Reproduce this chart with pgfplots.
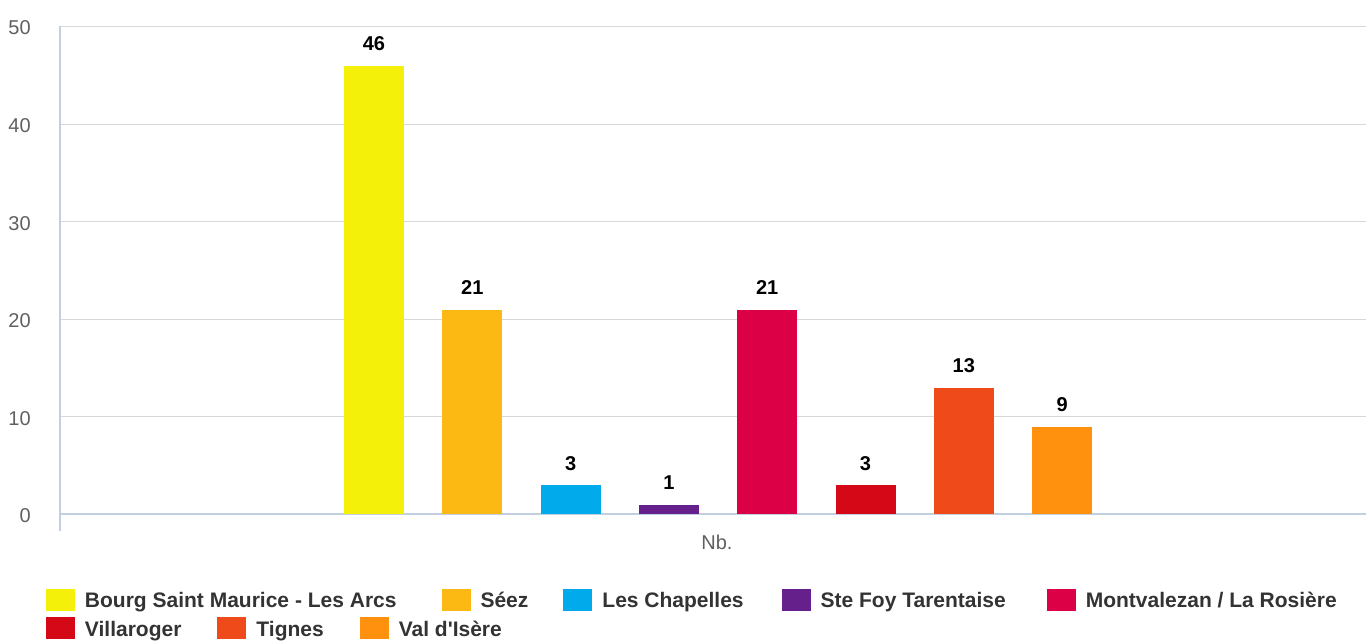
\documentclass[border=0pt]{standalone}
\usepackage{pgfplots}
\pgfplotsset{compat=1.18}
\usepackage{fontspec}
\setmainfont{Liberation Sans}
\definecolor{c1}{HTML}{F5F00A}
\definecolor{c2}{HTML}{FDB913}
\definecolor{c3}{HTML}{00AAEB}
\definecolor{c4}{HTML}{66208C}
\definecolor{c5}{HTML}{DC0046}
\definecolor{c6}{HTML}{D40816}
\definecolor{c7}{HTML}{EE4A1A}
\definecolor{c8}{HTML}{FF910F}
\definecolor{gridc}{HTML}{D8D8D8}
\definecolor{axisc}{HTML}{C0D0E0}
\definecolor{tickc}{HTML}{606060}
\definecolor{legc}{HTML}{333333}
\begin{document}
\begin{tikzpicture}
\useasboundingbox (0,0) rectangle (1366bp,642bp);
\begin{axis}[
  width=1306bp, height=488bp, scale only axis,
  at={(60bp,127.5bp)}, anchor=south west,
  xmin=0, xmax=1306, ymin=0, ymax=50,
  clip=false,
  axis x line=bottom, axis y line=left,
  x axis line style={draw=axisc, line width=2bp, -},
  y axis line style={draw=axisc, line width=1.2bp, -, shorten <=-17bp},
  ytick={0,10,20,30,40,50},
  ymajorgrids, grid style={draw=gridc, line width=1bp},
  ytick style={draw=none},
  xtick={657}, xticklabels={Nb.}, xtick style={draw=none},
  /pgf/number format/assume math mode=true,
  yticklabel style={font=\fontsize{20bp}{24bp}\selectfont, text=tickc, inner sep=0pt, anchor=east, xshift=-27bp, yshift=-1.5bp},
  xticklabel style={font=\fontsize{20bp}{24bp}\selectfont, text=tickc, inner sep=0pt, anchor=base, yshift=-33.3bp},
  bar width=60,
  nodes near coords,
  nodes near coords style={font=\fontsize{20bp}{24bp}\selectfont\bfseries, text=black, anchor=base, inner sep=0pt, yshift=15bp},
  legend columns=5,
  legend cell align=left,
  legend image code/.code={\fill[#1] (0bp,-11bp) rectangle (29bp,11bp);},
  legend style={draw=none, fill=none, inner sep=0pt, outer sep=0pt,
    at={(-0.01072,-0.1748)}, anchor=west,
    font=\fontsize{21bp}{25bp}\selectfont\bfseries, text=legc,
    nodes={inner sep=0pt, text height=15.3bp, text depth=0pt},
    /tikz/every odd column/.style={column sep=10bp},
    /tikz/column 2/.style={column sep=45bp},
    /tikz/column 4/.style={column sep=35bp},
    /tikz/column 6/.style={column sep=38bp},
    /tikz/column 8/.style={column sep=41bp}},
]
\addplot[ybar, bar shift=0pt, fill=c1, draw=none] coordinates {(314,46)};
\addlegendentry{Bourg Saint Maurice - Les Arcs}
\addplot[ybar, bar shift=0pt, fill=c2, draw=none] coordinates {(412.3,21)};
\addlegendentry{Séez}
\addplot[ybar, bar shift=0pt, fill=c3, draw=none] coordinates {(510.6,3)};
\addlegendentry{Les Chapelles}
\addplot[ybar, bar shift=0pt, fill=c4, draw=none] coordinates {(608.9,1)};
\addlegendentry{Ste Foy Tarentaise}
\addplot[ybar, bar shift=0pt, fill=c5, draw=none] coordinates {(707.2,21)};
\addlegendentry{Montvalezan / La Rosière}
\addplot[ybar, bar shift=0pt, fill=c6, draw=none, forget plot] coordinates {(805.5,3)};
\addplot[ybar, bar shift=0pt, fill=c7, draw=none, forget plot] coordinates {(903.8,13)};
\addplot[ybar, bar shift=0pt, fill=c8, draw=none, forget plot] coordinates {(1002.1,9)};
\end{axis}
\begin{axis}[
  width=1306bp, height=488bp, scale only axis,
  at={(60bp,127.5bp)}, anchor=south west,
  xmin=0, xmax=1306, ymin=0, ymax=50,
  hide axis,
  legend columns=3,
  legend cell align=left,
  legend image code/.code={\fill[#1] (0bp,-11bp) rectangle (29bp,11bp);},
  legend style={draw=none, fill=none, inner sep=0pt, outer sep=0pt,
    at={(-0.01072,-0.2336)}, anchor=west,
    font=\fontsize{21bp}{25bp}\selectfont\bfseries, text=legc,
    nodes={inner sep=0pt, text height=15.3bp, text depth=0pt},
    /tikz/every odd column/.style={column sep=10bp},
    /tikz/every even column/.style={column sep=36bp}},
]
\addlegendimage{fill=c6, draw=none}
\addlegendentry{Villaroger}
\addlegendimage{fill=c7, draw=none}
\addlegendentry{Tignes}
\addlegendimage{fill=c8, draw=none}
\addlegendentry{Val d\textquotesingle Isère}
\end{axis}
\end{tikzpicture}
\end{document}
